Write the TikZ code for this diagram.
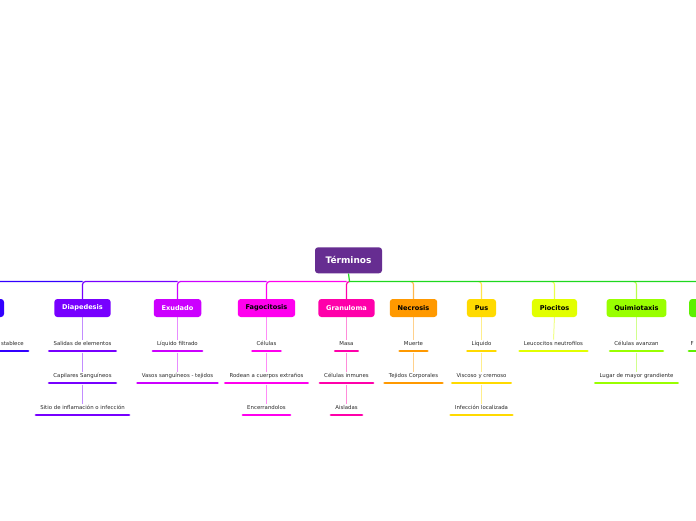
\documentclass[tikz,border=0pt]{standalone}
\usepackage{fontspec}
\setmainfont{DejaVu Sans}
\usetikzlibrary{calc}
\pgfdeclarelayer{bg}
\pgfdeclarelayer{lines}
\pgfsetlayers{bg,lines,main}
\definecolor{cRoot}{HTML}{662D91}
\definecolor{cGreenLine}{HTML}{1ED81E}
\definecolor{cA}{HTML}{3300FF}
\definecolor{cB}{HTML}{7700FF}
\definecolor{cC}{HTML}{CC00FF}
\definecolor{cD}{HTML}{FF00EE}
\definecolor{cE}{HTML}{FF00AA}
\definecolor{cF}{HTML}{FF9900}
\definecolor{cG}{HTML}{FFDA00}
\definecolor{cH}{HTML}{E2FF00}
\definecolor{cI}{HTML}{99FF00}
\definecolor{cJ}{HTML}{5EF000}
\definecolor{subtext}{HTML}{2B2B2B}
\tikzset{
  rootbox/.style={fill=cRoot, rounded corners=3pt, text=white,
    font=\bfseries\fontsize{9}{10}\selectfont, minimum height=26pt,
    minimum width=67pt, inner sep=0pt},
  catbox/.style={fill=#1, rounded corners=3pt,
    font=\bfseries\fontsize{6.6}{7.5}\selectfont, minimum height=18pt,
    inner xsep=7.8pt, inner ysep=0pt},
  subitem/.style={text=subtext, font=\fontsize{5.4}{6}\selectfont,
    inner xsep=5.5pt, inner ysep=0pt, text height=4pt, text depth=1.2pt},
  bar/.style={draw=#1, line width=2.8pt, line cap=round},
  link/.style={draw=#1, line width=1.2pt, rounded corners=3pt},
  drop/.style={draw=#1!70!white, line width=1.1pt, rounded corners=3pt},
  inner/.style={draw=#1!45!white, line width=1pt},
}
\begin{document}
\begin{tikzpicture}[x=1pt,y=-1pt]
\useasboundingbox (0,0) rectangle (696,520);
\clip (0,0) rectangle (696,520);
\begin{pgfonlayer}{bg}
\fill[white] (0,0) rectangle (696,520);
\end{pgfonlayer}

% root
\node[rootbox] (root) at (348.5,260.3) {Términos};
\coordinate (hub) at (349.5,281.5);
\coordinate (rightend) at (710,281.5);

% main branches
\node[catbox=cA, minimum width=68pt] (kA) at (-30,308) {};
\node[catbox=cB, text=white] (kB) at (82.5,308) {Diapedesis};
\node[catbox=cC, text=white] (kC) at (177.5,308) {Exudado};
\node[catbox=cD, text=black] (kD) at (266.5,308) {Fagocitosis};
\node[catbox=cE, text=white] (kE) at (346.5,308) {Granuloma};
\node[catbox=cF, text=black] (kF) at (413.5,308) {Necrosis};
\node[catbox=cG, text=black] (kG) at (481.5,308) {Pus};
\node[catbox=cH, text=black] (kH) at (554.5,308) {Piocitos};
\node[catbox=cI, text=black] (kI) at (636.5,308) {Quimiotaxis};
\node[catbox=cJ, anchor=west, minimum width=40pt] (kJ) at (689,308) {};

% sub items
\node[subitem, anchor=east] (a1) at (29.5,344) {stablece};

\node[subitem] (b1) at (82.5,344) {Salidas de elementos};
\node[subitem] (b2) at (82.5,376) {Capilares Sanguíneos};
\node[subitem] (b3) at (82.5,408) {Sitio de inflamación o infección};

\node[subitem] (c1) at (177.5,344) {Líquido filtrado};
\node[subitem] (c2) at (177.5,376) {Vasos sanguíneos - tejidos};

\node[subitem] (d1) at (266.5,344) {Células};
\node[subitem] (d2) at (266.5,376) {Rodean a cuerpos extraños};
\node[subitem] (d3) at (266.5,408) {Encerrandolos};

\node[subitem] (e1) at (346.5,344) {Masa};
\node[subitem] (e2) at (346.5,376) {Células inmunes};
\node[subitem] (e3) at (346.5,408) {Aisladas};

\node[subitem] (f1) at (413.5,344) {Muerte};
\node[subitem] (f2) at (413.5,376) {Tejidos Corporales};

\node[subitem] (g1) at (481.5,344) {Líquido};
\node[subitem] (g2) at (481.5,376) {Viscoso y cremoso};
\node[subitem] (g3) at (481.5,408) {Infección localizada};

\node[subitem] (h1) at (553.5,344) {Leucocitos neutrofilos};

\node[subitem] (i1) at (636.5,344) {Células avanzan};
\node[subitem] (i2) at (636.5,376) {Lugar de mayor grandiente};

\node[subitem, anchor=west, inner xsep=1.5pt] (j1) at (689,344) {F};

\begin{pgfonlayer}{lines}
% connectors, left side: each colours its own stretch of the line
\draw[link=cA] (hub -| kB.north) -- (hub -| kA.north) -- (kA.north);
\draw[link=cB] (hub -| kC.north) -- (hub -| kB.north) -- (kB.north);
\draw[link=cC] (hub -| kD.north) -- (hub -| kC.north) -- (kC.north);
\draw[link=cD] (hub -| kE.north) -- (hub -| kD.north) -- (kD.north);
\draw[link=cE] (hub) -- (hub -| kE.north) -- (kE.north);
% connectors, right side
\foreach \k/\c in {kF/cF, kG/cG, kH/cH, kI/cI, kJ/cJ}{
  \draw[drop=\c] ([xshift=-3pt]hub -| \k.north) -- (hub -| \k.north) -- (\k.north);
}
\draw[link=cGreenLine, rounded corners=0pt] (root.south) -- (hub) -- (rightend);

% inner vertical links
\foreach \k/\a/\c in {kB/b1/cB, kC/c1/cC, kD/d1/cD, kE/e1/cE, kF/f1/cF, kG/g1/cG, kH/h1/cH, kI/i1/cI}{
  \draw[inner=\c] (\k.south) -- ([yshift=1.5pt]\a.north);
}
\foreach \a/\b/\c in {b1/b2/cB, b2/b3/cB, c1/c2/cC, d1/d2/cD, d2/d3/cD, e1/e2/cE, e2/e3/cE, f1/f2/cF, g1/g2/cG, g2/g3/cG, i1/i2/cI}{
  \draw[inner=\c] ([yshift=-8.5pt]\a.center) -- ([yshift=1.5pt]\b.north);
}

% bars
\foreach \a/\c in {b1/cB, b2/cB, b3/cB, c1/cC, c2/cC, d1/cD, d2/cD, d3/cD, e1/cE, e2/cE, e3/cE, f1/cF, f2/cF, g1/cG, g2/cG, g3/cG, h1/cH, i1/cI, i2/cI}{
  \draw[bar=\c] ([xshift=1.4pt,yshift=-7pt]\a.west) -- ([xshift=-1.4pt,yshift=-7pt]\a.east);
}
\coordinate (a1s) at ([xshift=-40pt,yshift=-7pt]a1.west);
\draw[bar=cA] (a1s) -- ([xshift=-1.4pt,yshift=-7pt]a1.east);
\coordinate (j1e) at ([xshift=20pt,yshift=-7pt]j1.east);
\draw[bar=cJ] ([yshift=-7pt]j1.west) -- (j1e);
\end{pgfonlayer}
\end{tikzpicture}
\end{document}
